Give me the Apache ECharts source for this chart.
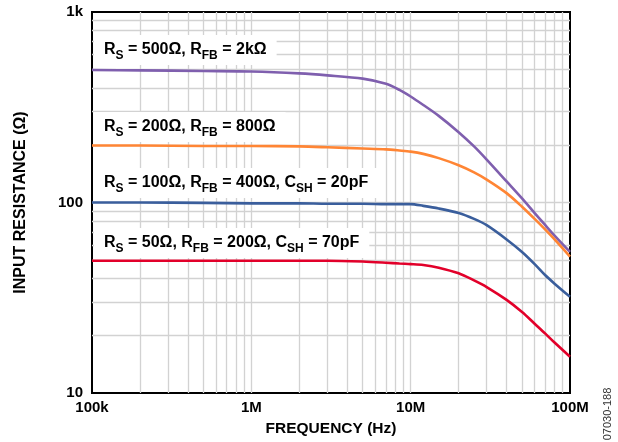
<!DOCTYPE html>
<html>
<head>
<meta charset="utf-8">
<script src="https://cdn.jsdelivr.net/npm/echarts@6/dist/echarts.min.js"></script>
<style>
  html, body { margin: 0; padding: 0; background: #fff; }
  #chart { width: 618px; height: 442px; }
</style>
</head>
<body>
<div id="chart"></div>
<script>
// frequency points (Hz) and input resistance (ohm) for each curve
const freqs = [1e5, 2e5, 5e5, 1e6, 2e6, 3e6, 5e6, 7e6, 8.5e6, 1e7, 1.2e7, 1.5e7, 2e7, 2.5e7, 3e7, 4e7, 5e7, 6e7, 7e7, 8e7, 1e8];
const rs500 = [496, 494, 490, 487, 476, 465, 447, 420, 390, 360, 325, 285, 234, 197, 168, 129, 105, 88, 76, 67, 55];
const rs200 = [199, 199, 198, 198, 197, 195, 192, 190, 187.5, 185, 180, 171, 157, 144, 132, 112, 95, 82, 72, 64, 52];
const rs100 = [100, 100, 99.5, 99, 99, 98.5, 98.5, 98, 98, 98, 96, 93, 88, 82, 76, 64, 55, 47.5, 41.5, 37.5, 32];
const rs50 = [49.5, 49.5, 49.5, 49.5, 49.5, 49.5, 49, 48.3, 47.8, 47.5, 47, 45.5, 42.5, 39, 36, 30.8, 26.6, 23.1, 20.5, 18.4, 15.5];

const xTickLabels = ['100k', '1M', '10M', '100M'];
const yTickLabels = ['10', '100', '1k'];

const colors = {
  purple: '#7f5fae',
  orange: '#ff8534',
  blue: '#3a5e9c',
  red: '#e2002a',
  grid: '#d2d2d2',
  text: '#000'
};
const fontFamily = '"Liberation Sans", Arial, sans-serif';

// log grid lines: every 1..9 step inside each decade
const xGridVals = [];
[1e5, 1e6, 1e7].forEach(d => { for (let k = 1; k <= 9; k++) if (d * k > 1e5) xGridVals.push(d * k); });
const yGridVals = [];
[10, 100].forEach(d => { for (let k = 1; k <= 9; k++) if (d * k > 10) yGridVals.push(d * k); });

function pairs(ys) {
  return freqs.map((f, i) => [f, ys[i]]);
}

function curve(name, ys, color) {
  return {
    name: name, type: 'line', data: pairs(ys),
    showSymbol: false, smooth: 0.3,
    lineStyle: { color: color, width: 2.6 },
    z: 5
  };
}

const rich = {
  m: { fontSize: 16, fontWeight: 'bold', lineHeight: 24, fontFamily: fontFamily, color: colors.text },
  s: { fontSize: 12, fontWeight: 'bold', padding: [12, 0, 0, 0], fontFamily: fontFamily, color: colors.text }
};

function note(text, y) {
  return {
    type: 'text', x: 94, y: y, z: 10,
    style: {
      text: text, rich: rich,
      align: 'left', verticalAlign: 'middle',
      backgroundColor: '#fff', padding: [3, 10, 3, 10]
    }
  };
}

const chart = echarts.init(document.getElementById('chart'));
chart.setOption({
  animation: false,
  textStyle: { fontFamily: fontFamily },
  grid: { left: 92, top: 12, right: 48, bottom: 49, show: true, borderColor: '#000', borderWidth: 2, backgroundColor: '#fff' },
  xAxis: {
    type: 'log', logBase: 10, min: 1e5, max: 1e8,
    name: 'FREQUENCY (Hz)', nameLocation: 'middle', nameGap: 28,
    nameTextStyle: { fontSize: 15.5, fontWeight: 'bold', color: colors.text },
    axisLine: { lineStyle: { color: '#000', width: 2 } },
    axisTick: { show: false },
    splitLine: { show: false },
    axisLabel: {
      fontSize: 15, fontWeight: 'bold', color: colors.text, margin: 7,
      formatter: v => xTickLabels[Math.round(Math.log10(v)) - 5]
    }
  },
  yAxis: {
    type: 'log', logBase: 10, min: 10, max: 1000,
    name: 'INPUT RESISTANCE (Ω)', nameLocation: 'middle', nameGap: 63, nameRotate: 90,
    nameTextStyle: { fontSize: 16, fontWeight: 'bold', color: colors.text },
    axisLine: { lineStyle: { color: '#000', width: 2 } },
    axisTick: { show: false },
    splitLine: { show: false },
    axisLabel: {
      fontSize: 15, fontWeight: 'bold', color: colors.text, margin: 9,
      formatter: v => yTickLabels[Math.round(Math.log10(v)) - 1]
    }
  },
  series: [
    {
      name: 'grid', type: 'line', data: [], z: 1,
      markLine: {
        silent: true, symbol: ['none', 'none'], label: { show: false },
        lineStyle: { color: colors.grid, width: 1.3, type: 'solid' },
        data: xGridVals.map(v => ({ xAxis: v })).concat(yGridVals.map(v => ({ yAxis: v })))
      }
    },
    curve('RS=500', rs500, colors.purple),
    curve('RS=200', rs200, colors.orange),
    curve('RS=100', rs100, colors.blue),
    curve('RS=50', rs50, colors.red)
  ],
  graphic: [
    note('{m|R}{s|S}{m| = 500Ω, R}{s|FB}{m| = 2kΩ}', 50),
    note('{m|R}{s|S}{m| = 200Ω, R}{s|FB}{m| = 800Ω}', 127),
    note('{m|R}{s|S}{m| = 100Ω, R}{s|FB}{m| = 400Ω, C}{s|SH}{m| = 20pF}', 183),
    note('{m|R}{s|S}{m| = 50Ω, R}{s|FB}{m| = 200Ω, C}{s|SH}{m| = 70pF}', 243),
    {
      type: 'text', x: 608, y: 414, rotation: Math.PI / 2,
      style: { text: '07030-188', fontSize: 11, fontFamily: fontFamily, fill: '#333', align: 'center', verticalAlign: 'middle' }
    }
  ]
});
</script>
</body>
</html>
